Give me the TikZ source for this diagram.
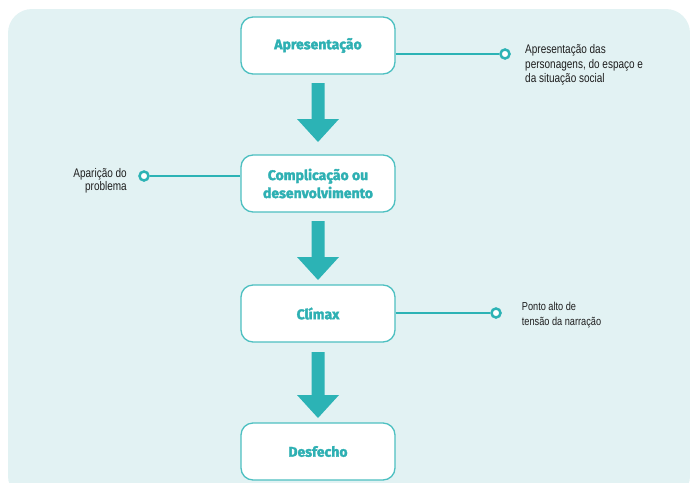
\documentclass[tikz,border=0pt]{standalone}
\usepackage{fontspec}
\setmainfont{Liberation Sans}
\newfontfamily\headfont{Fira Sans}[BoldFeatures={FakeBold=2.2}]
\newfontfamily\notefont{Liberation Sans}[FakeStretch=0.8]
\definecolor{panel}{HTML}{E2F2F3}
\definecolor{teal}{HTML}{2CB3B5}
\definecolor{tealline}{HTML}{4DC0C1}
\definecolor{tealtext}{HTML}{2EB0B3}
\definecolor{note}{HTML}{1E1E1E}
\tikzset{
  stage/.style={draw=tealline, line width=1.3pt, fill=white, rounded corners=12pt,
    minimum width=154pt, minimum height=57pt, inner sep=0pt, align=center,
    font=\headfont\bfseries\fontsize{14}{18}\selectfont, text=tealtext},
  dot/.style={circle, draw=teal, line width=2.5pt, fill=white, minimum size=9pt, inner sep=0pt},
  link/.style={draw=teal, line width=2.5pt},
  notetext/.style={text=note, inner sep=0pt},
  bigarrow/.style={fill=teal, draw=none}
}
\newcommand{\downarrowshape}[2]{%
  \fill[bigarrow] (311.5,#1) -- (324.5,#1) -- (324.5,#2-23) -- (339,#2-23) -- (318,#2) -- (297,#2-23) -- (311.5,#2-23) -- cycle;}
\begin{document}
\begin{tikzpicture}[x=1pt,y=-1pt]
\useasboundingbox (0,0) rectangle (690,482);
\begin{scope}
\clip (0,0) rectangle (690,482);
\fill[panel, rounded corners=24pt] (8,500) -- (8,9) -- (690,9) -- (690,500) -- cycle;
\end{scope}

\node[stage] (s1) at (318,45.5) {Apresentação};
\node[stage] (s2) at (318,183.5) {Complicação ou\\desenvolvimento};
\node[stage] (s3) at (318,313.5) {Clímax};
\node[stage] (s4) at (318,451.5) {Desfecho};

\downarrowshape{83}{142}
\downarrowshape{221}{280}
\downarrowshape{352}{418}

\coordinate (c1) at (s1.east |- 0,54);
\node[dot] (d1) at (505,54) {};
\draw[link] (c1) -- (d1);
\node[notetext, anchor=north west, align=left, font=\notefont\fontsize{12.5}{14.7}\selectfont] (t1) at (525,44.2) {Apresentação das\\personagens, do espaço e\\da situação social};

\node[dot] (d2) at (144,176) {};
\coordinate (c2) at (s2.west |- 0,176);
\draw[link] (d2) -- (c2);
\node[notetext, anchor=north east, align=right, font=\notefont\fontsize{12.5}{11.5}\selectfont] (t2) at (127,168.2) {Aparição do\\problema};

\node[dot] (d3) at (496,313) {};
\draw[link] (s3.east |- 0,313) -- (d3);
\node[notetext, anchor=north west, align=left, font=\notefont\fontsize{11.5}{15}\selectfont] (t3) at (521.7,302.3) {Ponto alto de\\tensão da narração};
\end{tikzpicture}
\end{document}
